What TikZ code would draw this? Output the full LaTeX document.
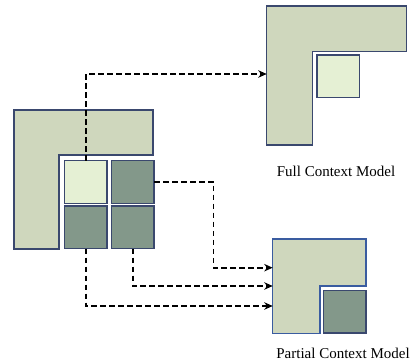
\documentclass[tikz,border=0pt]{standalone}
\usepackage{fontspec}
\setmainfont{Liberation Serif}
\usetikzlibrary{arrows.meta}
\definecolor{lfill}{RGB}{207,215,189}
\definecolor{lightcell}{RGB}{229,240,212}
\definecolor{darkcell}{RGB}{131,152,138}
\definecolor{navy}{RGB}{58,72,110}
\definecolor{blueedge}{RGB}{58,92,160}
\tikzset{
  lshape/.style={draw=navy, fill=lfill, line width=1.3pt, line join=miter},
  cell/.style={draw=navy, line width=1.3pt, minimum size=42.5pt, inner sep=0pt, outer sep=0pt},
  lightc/.style={cell, fill=lightcell},
  darkc/.style={cell, fill=darkcell},
  link/.style={draw=black, line width=1.6pt, dash pattern=on 5.5pt off 3.5pt,
    -{Stealth[length=8.5pt,width=7.5pt]}},
  caption/.style={font=\fontsize{15}{17}\selectfont, inner sep=0pt}
}
\begin{document}
\begin{tikzpicture}[x=1pt,y=-1pt]
\useasboundingbox (0,0) rectangle (417,363);

% source context with its four cells
\draw[lshape] (14,110) -- (153,110) -- (153,155) -- (59,155) -- (59,249) -- (14,249) -- cycle;
\node[lightc] (c11) at (85.8,182) {};
\node[darkc]  (c12) at (132.8,182) {};
\node[darkc]  (c21) at (85.8,227.3) {};
\node[darkc]  (c22) at (132.8,227.3) {};

% full context model
\draw[lshape] (266.7,6) -- (406.7,6) -- (406.7,51.7) -- (312.7,51.7) -- (312.7,145) -- (266.7,145) -- cycle;
\node[lightc] (fcell) at (338.3,76.3) {};
\coordinate (fin) at (266.7,74);
\node[caption] (flabel) at (336,171.5) {Full Context Model};

% partial context model
\draw[lshape, draw=blueedge] (272.7,239) -- (366,239) -- (366,286) -- (320,286) -- (320,333.3) -- (272.7,333.3) -- cycle;
\node[darkc] (pcell) at (344.7,311.7) {};
\coordinate (pin1) at (272.7,267.7);
\coordinate (pin2) at (272.7,286);
\coordinate (pin3) at (272.7,306);
\node[caption] (plabel) at (343,353) {Partial Context Model};

% dashed links
\coordinate (bend) at (213.3,182);
\draw[link] (c11.north) |- (fin);
\draw[link] (c12.east) -- (bend) |- (pin1);
\draw[link] (c22.south) |- (pin2);
\draw[link] (c21.south) |- (pin3);
\end{tikzpicture}
\end{document}
